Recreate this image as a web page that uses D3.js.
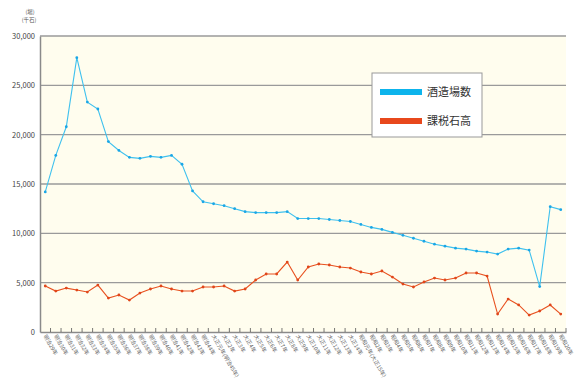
<!DOCTYPE html>
<html><head><meta charset="utf-8">
<script src="https://cdn.jsdelivr.net/npm/d3@7/dist/d3.min.js"></script>
<style>
body{margin:0;background:#fff;}
text{font-family:"Noto Sans CJK JP","Noto Sans",sans-serif;}
</style></head>
<body><svg id="c" width="580" height="382"></svg>
<script>
const categories = [
"明治29年","明治30年","明治31年","明治32年","明治33年","明治34年","明治35年","明治36年","明治37年","明治38年",
"明治39年","明治40年","明治41年","明治42年","明治43年","明治44年","大正元年(明治45年)","大正2年","大正3年","大正4年",
"大正5年","大正6年","大正7年","大正8年","大正9年","大正10年","大正11年","大正12年","大正13年","大正14年",
"昭和元年(大正15年)","昭和2年","昭和3年","昭和4年","昭和5年","昭和6年","昭和7年","昭和8年","昭和9年","昭和10年",
"昭和11年","昭和12年","昭和13年","昭和14年","昭和15年","昭和16年","昭和17年","昭和18年","昭和19年","昭和20年"];
const breweries = [
14200,17900,20800,27800,23300,22600,19300,18400,17700,17600,
17800,17700,17900,17000,14300,13200,13000,12800,12500,12200,
12100,12100,12100,12200,11500,11500,11500,11400,11300,11200,
10900,10600,10400,10100,9800,9500,9200,8900,8700,8500,
8400,8200,8100,7900,8400,8500,8300,4600,12700,12400];
const taxVolume = [
4660,4150,4450,4250,4050,4760,3440,3750,3240,3950,
4360,4660,4360,4150,4150,4560,4560,4660,4150,4360,
5270,5880,5880,7090,5270,6590,6890,6790,6590,6480,
6080,5880,6180,5570,4860,4560,5070,5470,5270,5470,
5980,5980,5670,1820,3340,2740,1720,2130,2740,1820];
const yTicks = [0,5000,10000,15000,20000,25000,30000];
const seriesNames = ["酒造場数","課税石高"];
const colors = ["#3fc1ee","#e8511f"];
const dotColors = ["#1aa6e6","#e0461a"];

const svg = d3.select("#c");
const L=40,R=566,T=36,B=332;
const x = d3.scaleBand().domain(categories).range([L,R]);
const y = d3.scaleLinear().domain([0,30000]).range([B,T]);

svg.append("rect").attr("x",L).attr("y",T).attr("width",R-L).attr("height",B-T).attr("fill","#fffdee");

// gridlines
svg.append("g").selectAll("line").data(yTicks.filter(d=>d>0)).join("line")
  .attr("x1",L).attr("x2",R).attr("y1",d=>y(d)).attr("y2",d=>y(d))
  .attr("stroke","#9a9a9a").attr("stroke-width",1.3);

// y axis
const ya = svg.append("g").attr("transform",`translate(${L},0)`)
  .call(d3.axisLeft(y).tickValues(yTicks).tickFormat(d3.format(",")).tickSize(0).tickPadding(5));
ya.select(".domain").attr("stroke","#8a8a8a").attr("stroke-width",1.5);
ya.selectAll("text").attr("font-size",7.5).attr("fill","#444").attr("font-family","Liberation Sans, Arial, sans-serif");

// x axis
const xa = svg.append("g").attr("transform",`translate(0,${B})`)
  .call(d3.axisBottom(x).tickSize(0).tickFormat(""));
xa.select(".domain").attr("stroke","#8a8a8a").attr("stroke-width",1.5);
svg.append("g").selectAll("line").data(categories).join("line")
  .attr("x1",d=>x(d)+x.bandwidth()).attr("x2",d=>x(d)+x.bandwidth())
  .attr("y1",B-4).attr("y2",B).attr("stroke","#555").attr("stroke-width",0.8);
svg.append("g").selectAll("text").data(categories).join("text")
  .attr("transform",d=>`translate(${x(d)+x.bandwidth()/2-2},${B+4}) rotate(60)`)
  .attr("font-size",5.5).attr("fill","#666").text(d=>d);

// units
svg.append("text").attr("x",30).attr("y",14).attr("font-size",5.5).attr("fill","#555").attr("text-anchor","middle").text("(場)");
svg.append("text").attr("x",29).attr("y",22).attr("font-size",5.5).attr("fill","#555").attr("text-anchor","middle").text("(千石)");

const cx = d=>x(d)+x.bandwidth()/2;
[breweries,taxVolume].forEach((vals,k)=>{
  const pts = categories.map((c,i)=>[cx(c),y(vals[i])]);
  svg.append("path").attr("d",d3.line()(pts)).attr("fill","none").attr("stroke",colors[k]).attr("stroke-width",1.1);
  svg.append("g").selectAll("circle").data(pts).join("circle")
    .attr("cx",d=>d[0]).attr("cy",d=>d[1]).attr("r",1.4).attr("fill",dotColors[k]);
});

// legend
const lg = svg.append("g");
lg.append("rect").attr("x",372).attr("y",73).attr("width",110).attr("height",64).attr("fill","#fff").attr("stroke","#999").attr("stroke-width",1);
seriesNames.forEach((n,i)=>{
  lg.append("rect").attr("x",380).attr("y",89+i*29).attr("width",42).attr("height",6).attr("fill",colors[i]==="#3fc1ee"?"#0db4ec":"#e8481c");
  lg.append("text").attr("x",427).attr("y",96+i*29).attr("font-size",11).attr("fill","#333").text(n);
});
</script></body></html>
